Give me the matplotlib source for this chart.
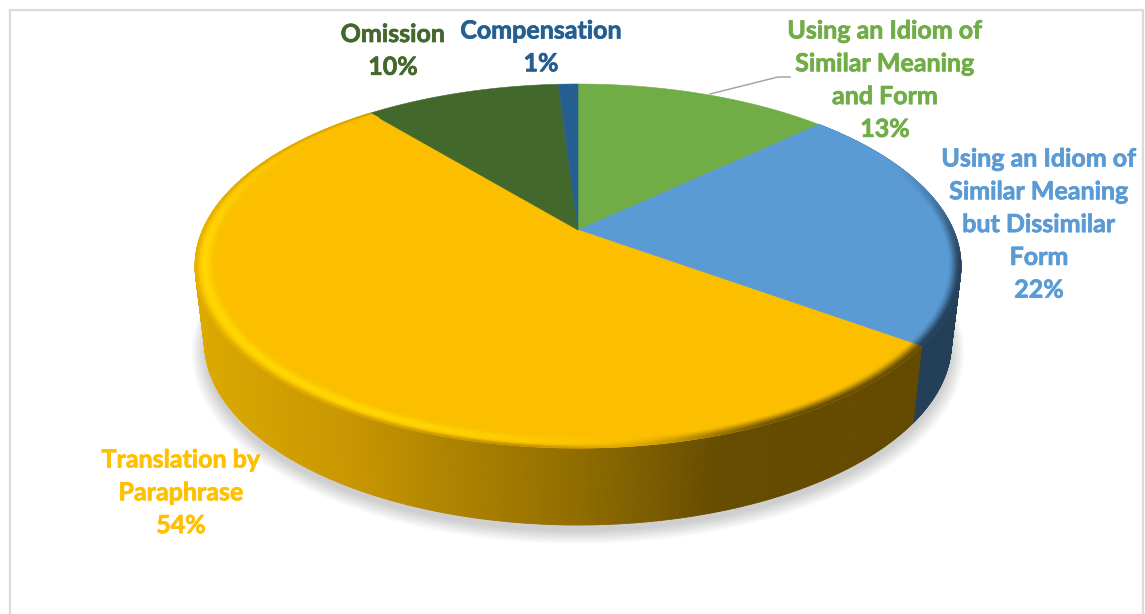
import numpy as np
import matplotlib
matplotlib.use("Agg")
import matplotlib.pyplot as plt
import matplotlib.patheffects as pe
from matplotlib.collections import PolyCollection
from matplotlib.colors import to_rgb
from matplotlib.patches import Polygon

# Chart data, clockwise from twelve o'clock
categories = [
    ["Using an Idiom of", "Similar Meaning", "and Form"],
    ["Using an Idiom of", "Similar Meaning", "but Dissimilar", "Form"],
    ["Translation by", "Paraphrase"],
    ["Omission"],
    ["Compensation"],
]
shares = [13, 22, 54, 10, 1]
face_colours = ["#70AD47", "#5B9BD5", "#FBBF00", "#43682B", "#255E91"]
label_colours = ["#70AD47", "#5B9BD5", "#FFC000", "#43682B", "#255E91"]

# Label anchors: centre x and first baseline, in figure pixels
label_x = [885, 1039, 181, 393, 541]
label_y = [38.5, 166.5, 467.5, 42, 38.5]
LINE_STEP = 32.8

W, H = 1145, 614
fig = plt.figure(figsize=(W / 100, H / 100), dpi=100, facecolor="white")
ax = fig.add_axes([0, 0, 1, 1])
ax.set_xlim(0, W)
ax.set_ylim(H, 0)
ax.axis("off")

# Chart frame, running off the lower edge
ax.plot([10, 10, 1143, 1143], [H + 5, 9.5, 9.5, H + 5], color="#DADADA", lw=1.6,
        solid_joinstyle="miter")

CX = 578
TILT = 0.198


def project(r, theta, a=375.4, b=174.9, cy=230.0, ox=CX):
    """Perspective view of a disc; theta runs clockwise from the far point."""
    gx, gy = r * np.sin(theta), r * np.cos(theta)
    d = 1 + TILT * gy
    return ox + a * gx / d, cy - b * gy / d


def project_base(r, theta):
    return project(r, theta, a=366.0, b=175.4, cy=306.3)


def smooth(v, lo, hi):
    t = np.clip((v - lo) / (hi - lo), 0, 1)
    return t * t * (3 - 2 * t)


# Horizontal shading of the yellow side wall
grad_x = [195, 350, 450, 560, 640, 720, 915]
grad_c = np.array([to_rgb(c) for c in
                   ["#DCA900", "#C89600", "#AE8300", "#957000", "#7E5F00", "#654C00", "#634A00"]])


def wall_yellow(x):
    return np.array([np.interp(x, grad_x, grad_c[:, i]) for i in range(3)]).T


WALL_BLUE = np.array(to_rgb("#243F58"))

fractions = np.array(shares) / sum(shares)
edges = np.concatenate([[0], np.cumsum(fractions)]) * 2 * np.pi

# Soft shadow beneath the disc
th = np.linspace(0, 2 * np.pi, 361)
for i in range(16):
    f = 1 - i / 15
    sx, sy = project(1, th, a=366 + 13 * f, b=175.4 + 9 * f, cy=306.3 + 6 + 2 * f)
    ax.add_patch(Polygon(np.c_[sx, sy], closed=True, fc="#000000", ec="none",
                         alpha=0.012, zorder=1))

# Side wall: narrow strips between the upper and lower rims
for idx, wall_fn in ((1, lambda x: np.tile(WALL_BLUE, (len(x), 1))), (2, wall_yellow)):
    t = np.linspace(edges[idx], edges[idx + 1], 500)
    x0, y0 = project(1, t)
    x1, y1 = project_base(1, t)
    quads = [[(x0[i], y0[i]), (x0[i + 1], y0[i + 1]), (x1[i + 1], y1[i + 1]), (x1[i], y1[i])]
             for i in range(len(t) - 1)]
    cols = wall_fn(0.5 * (x0[:-1] + x0[1:]))
    ax.add_collection(PolyCollection(quads, facecolors=cols, edgecolors=cols, linewidths=0.6, zorder=2))

# Flat top of each slice
for i, colour in enumerate(face_colours):
    t = np.linspace(edges[i], edges[i + 1], 200)
    x, y = project(1, t)
    pts = np.r_[[project(0, 0.0)], np.c_[x, y]]
    ax.add_patch(Polygon(pts, closed=True, fc=colour, ec=colour, lw=0.4, zorder=3))

# Bevelled rim on the slices facing the viewer
RIM_IN = 0.95
radii = np.linspace(RIM_IN, 1.0, 13)
HIGHLIGHT = np.array(to_rgb("#FFD800"))
for idx in (1, 2):
    base = np.array(to_rgb(face_colours[idx]))
    t = np.linspace(edges[idx], edges[idx + 1], 400)
    quads, cols = [], []
    for j in range(len(radii) - 1):
        xa, ya = project(radii[j], t)
        xb, yb = project(radii[j + 1], t)
        tr = (j + 0.5) / (len(radii) - 1)
        for k in range(len(t) - 1):
            deg = np.degrees(0.5 * (t[k] + t[k + 1]))
            xm = 0.5 * (xb[k] + xb[k + 1])
            dark_amt = smooth(deg, 62, 105) * (1 - smooth(deg, 150, 182))
            lit_amt = smooth(deg, 168, 205) * (1 - smooth(deg, 262, 312))
            wall = WALL_BLUE if idx == 1 else wall_yellow(np.array([xm]))[0]
            c = base + (wall - base) * dark_amt * smooth(tr, 0.35, 1.0)
            bump = np.exp(-((tr - 0.5) / 0.3) ** 2)
            c = c + (HIGHLIGHT - c) * lit_amt * bump
            # The lit part of the bevel still rolls over into the wall colour
            c = c + (wall - c) * (1 - dark_amt) * smooth(deg, 168, 190) * smooth(tr, 0.72, 1.05) * 0.8
            quads.append([(xa[k], ya[k]), (xa[k + 1], ya[k + 1]), (xb[k + 1], yb[k + 1]), (xb[k], yb[k])])
            cols.append(c)
    cols = np.array(cols)
    ax.add_collection(PolyCollection(quads, facecolors=cols, edgecolors=cols, linewidths=0.4, zorder=4))

# Leader line from the first slice to its label
ax.plot([710, 778, 790], [94, 77, 77], color="#A6A6A6", lw=1.1, zorder=5)

# Slice labels
for lines, share, colour, x, y in zip(categories, shares, label_colours, label_x, label_y):
    for n, line in enumerate(lines + [f"{share}%"]):
        ax.text(x, y + n * LINE_STEP, line, color=colour, ha="center", va="baseline",
                fontfamily="Lato", fontweight="bold", fontsize=18.0, zorder=6,
                path_effects=[pe.withStroke(linewidth=0.5, foreground=colour)])

fig.savefig("out.png", dpi=100, facecolor="white")
